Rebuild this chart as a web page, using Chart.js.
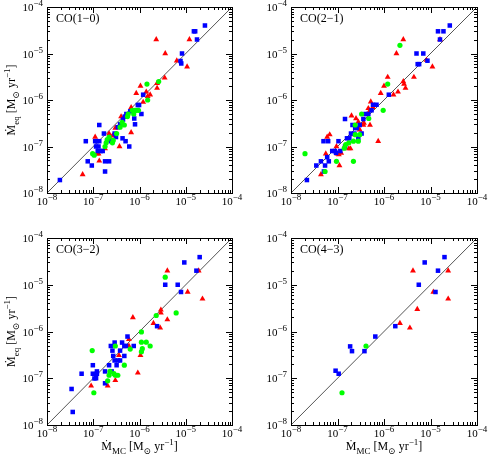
<!DOCTYPE html>
<html>
<head>
<meta charset="UTF-8">
<title>CO mass-loss rates</title>
<script src="https://cdn.jsdelivr.net/npm/chart.js"></script>
<style>
body { margin: 0; background: #fff; }
#wrap { position: relative; width: 490px; height: 456px; }
#wrap canvas { position: absolute; left: 0; top: 0; }
</style>
</head>
<body>
<div id="wrap">
<canvas id="c1" width="490" height="456"></canvas>
<canvas id="c2" width="490" height="456"></canvas>
<canvas id="c3" width="490" height="456"></canvas>
<canvas id="c4" width="490" height="456"></canvas>
</div>
<script>
// axis range and decade ticks (log)
const axisRange = [1e-8, 1e-4];
const tickExp = [-8, -7, -6, -5, -4];

// [Mdot_MC, Mdot_eq] pairs
const co10Red = [[5.9e-8,2.5e-8],[1.1e-7,1.6e-7],[1.2e-7,7e-8],[1.3e-7,7e-8],[1.35e-7,4.9e-8],
  [1.8e-7,9e-8],[2.2e-7,1.9e-7],[2.4e-7,1.4e-7],[2.6e-7,1.7e-7],[3e-7,2.5e-7],
  [3.7e-7,1e-7],[4e-7,4.4e-7],[6.6e-7,2e-7],[6.6e-7,6.9e-7],[8.5e-7,1.4e-6],
  [1.05e-6,2e-6],[1.2e-6,9e-7],[1.4e-6,1.5e-6],[1.5e-6,1.2e-6],[1.7e-6,1.3e-6],
  [2.4e-6,2.3e-6],[2.4e-6,1.8e-6],[3.5e-6,3e-6],[2.3e-6,2e-5],[3.6e-6,1e-5],
  [6.4e-6,7e-6],[1.07e-5,5.2e-6],[1.2e-5,2e-5]];
const co10Blue = [[1.9e-8,1.9e-8],[6.9e-8,1.3e-7],[7.6e-8,4.8e-8],[9.3e-8,3.9e-8],[1.1e-7,1.3e-7],
  [1.2e-7,1.3e-7],[1.35e-7,1.3e-7],[1.15e-7,1e-7],[1.3e-7,1e-7],[1.25e-7,8e-8],
  [1.45e-7,8e-8],[1.6e-7,8e-8],[1.35e-7,2.9e-7],[1.7e-7,1.9e-7],[1.8e-7,4.8e-8],
  [2.2e-7,4.8e-8],[1.8e-7,2.9e-8],[2.4e-7,1.3e-7],[2.9e-7,1.9e-7],[3.1e-7,1.6e-7],
  [3.4e-7,2.6e-7],[3.8e-7,3e-7],[4.3e-7,1.5e-7],[5e-7,1.3e-7],[6e-7,1e-7],
  [4.4e-7,3.8e-7],[4.8e-7,4.4e-7],[5.2e-7,5e-7],[6.3e-7,5.7e-7],[7.7e-7,4e-7],
  [8e-7,3e-7],[9.2e-7,7.8e-7],[9.8e-7,7.8e-7],[1.1e-6,5e-7],[1.2e-6,1.3e-6],
  [8.3e-6,1e-5],[7.7e-6,6.9e-6],[8e-6,6.1e-6],[1.5e-5,3e-5],[1.6e-5,3e-5],
  [1.75e-5,2e-5],[2.6e-5,4e-5]];
const co10Green = [[9.7e-8,7e-8],[1.05e-7,6.5e-8],[1.8e-7,1e-7],[1.9e-7,1.2e-7],[2e-7,1.4e-7],
  [2.2e-7,1.6e-7],[2.6e-7,1.2e-7],[2.7e-7,1.35e-7],[3.2e-7,1.9e-7],[3.8e-7,2.6e-7],
  [4.2e-7,3.3e-7],[4.7e-7,2.9e-7],[5.5e-7,4.4e-7],[5.7e-7,5e-7],[7e-7,6e-7],
  [7.5e-7,5e-7],[8e-7,6e-7],[8.5e-7,6e-7],[9.5e-7,6e-7],[1.45e-6,2.2e-6],
  [1.5e-6,1e-6],[2.6e-6,2.5e-6]];

const co21Red = [[4.4e-8,2.5e-8],[5.6e-8,7e-8],[6e-8,1.6e-7],[6.8e-8,1.8e-7],[1e-7,7e-8],
  [1.07e-7,6.7e-8],[1.2e-7,7.2e-8],[1.1e-7,3.9e-8],[9.5e-8,1e-7],[2e-7,4.6e-7],
  [1.75e-7,9e-8],[1.9e-7,9e-8],[2.1e-7,1.8e-7],[2.5e-7,4e-7],[2.8e-7,3.4e-7],
  [3e-7,2.3e-7],[3.6e-7,2.9e-7],[3.7e-7,3.2e-7],[4.6e-7,6.6e-7],[5e-7,6e-7],
  [5.2e-7,9.2e-7],[5.8e-7,7e-7],[5e-7,2.9e-7],[7.5e-7,1.3e-7],[8.5e-7,1.4e-6],
  [1e-6,2e-6],[1.2e-6,3.1e-6],[1.6e-6,1.3e-6],[2e-6,1.5e-6],[2.6e-6,2.5e-6],
  [2.7e-6,2.2e-6],[2.9e-6,1.8e-6],[1.85e-6,1e-5],[2.6e-6,2e-5],[4.4e-6,3.1e-6],
  [8.2e-6,7.2e-6],[1.1e-5,5.2e-6],[1.6e-5,2e-5]];
const co21Blue = [[2.2e-8,1.9e-8],[3.5e-8,3.9e-8],[4.4e-8,4.8e-8],[5.1e-8,2.9e-8],[5.4e-8,3.9e-8],
  [5e-8,1.3e-7],[6.3e-8,1.3e-7],[6e-8,5.9e-8],[6.5e-8,4.8e-8],[7.7e-8,8e-8],
  [8.8e-8,8e-8],[9.3e-8,7.3e-8],[1.05e-7,1.3e-7],[1.15e-7,8e-8],[1.45e-7,3.9e-7],
  [1.45e-7,1e-7],[1.6e-7,1.5e-7],[1.8e-7,1.5e-7],[1.95e-7,1.9e-7],[2.1e-7,2.9e-7],
  [2.3e-7,1.9e-7],[2.4e-7,2.5e-7],[2.6e-7,2.5e-7],[3e-7,2.9e-7],[2.8e-7,1.5e-7],
  [3.3e-7,1.9e-7],[3.6e-7,3.9e-7],[4e-7,5e-7],[4.6e-7,5e-7],[5.4e-7,6e-7],
  [5.8e-7,7.9e-7],[6.9e-7,7.9e-7],[1.27e-6,1.3e-6],[5e-6,1e-5],[7e-6,1e-5],
  [5.3e-6,5.9e-6],[5.7e-6,5.9e-6],[8.6e-6,7e-6],[1.45e-5,3e-5],[1.9e-5,3e-5],
  [1.6e-5,2e-5],[2.6e-5,4e-5]];
const co21Green = [[2e-8,7e-8],[5.4e-8,2.9e-8],[9.5e-8,4.8e-8],[1.4e-7,9.2e-8],[1.5e-7,1.1e-7],
  [1.75e-7,1.2e-7],[2.2e-7,1.3e-7],[2.4e-7,1.8e-7],[2.4e-7,2.9e-7],[2.8e-7,1.3e-7],
  [3e-7,1.8e-7],[3.3e-7,5e-7],[2.2e-7,4.8e-8],[4.7e-7,4e-7],[9.6e-7,6e-7],
  [1.2e-6,2.2e-6],[2.2e-6,1.5e-5]];

const co32Red = [[9e-8,6.9e-8],[2.05e-7,6.9e-8],[3e-7,9e-8],[3.6e-7,3.1e-7],[5.9e-7,4.9e-7],
  [5.9e-7,6.8e-7],[7.2e-7,2e-6],[9.2e-7,1.3e-7],[1.05e-6,3.1e-7],[2e-6,1.5e-6],
  [2.8e-6,1.2e-6],[2.9e-6,2.9e-6],[2.9e-6,2.5e-6],[4e-6,1.8e-6],[4e-6,2e-5],
  [1.1e-5,7e-6],[1.9e-5,2e-5],[2.3e-5,5e-6]];
const co32Blue = [[3.4e-8,5.9e-8],[3.6e-8,1.9e-8],[5.6e-8,1.25e-7],[9.8e-8,1.9e-7],[9.8e-8,1.25e-7],
  [1.06e-7,9.9e-8],[1.15e-7,1e-7],[1.2e-7,1.25e-7],[1.2e-7,1.4e-7],[1.8e-7,7.8e-8],
  [1.8e-7,1.4e-7],[2.2e-7,1.9e-7],[2.4e-7,4.9e-7],[2.6e-7,3.9e-7],[2.9e-7,5.8e-7],
  [2.7e-7,3e-7],[2.9e-7,2.4e-7],[3.2e-7,1.9e-7],[3.4e-7,2.4e-7],[3.8e-7,3.9e-7],
  [3.8e-7,2.4e-7],[4.2e-7,5.8e-7],[4.7e-7,4.9e-7],[5.1e-7,4.9e-7],[5.5e-7,7.8e-7],
  [7.5e-7,4.9e-7],[4.7e-7,3e-7],[2.5e-7,1.4e-7],[3.6e-6,1e-5],[2.4e-6,1.3e-6],
  [6.7e-6,1e-5],[7.9e-6,7e-6],[9.3e-6,3e-5],[1.7e-5,2e-5],[2e-5,3.9e-5]];
const co32Green = [[9.5e-8,3.9e-7],[1.03e-7,4.9e-8],[2.05e-7,8.8e-8],[2.2e-7,1.16e-7],[2.3e-7,1.4e-7],
  [2.8e-7,1.25e-7],[3e-7,1.16e-7],[3.4e-7,1.16e-7],[3e-7,4.9e-7],[4.7e-7,1.9e-7],
  [6.3e-7,4.2e-7],[1.1e-6,9.8e-7],[1.1e-6,5.9e-7],[1.1e-6,3.7e-7],[1.15e-6,4.3e-7],
  [1.4e-6,5.9e-7],[1.7e-6,4.9e-7],[2.3e-6,2.2e-6],[3.6e-6,1.45e-5],[6.2e-6,2.5e-6]];

const co43Red = [[2.2e-6,1.5e-6],[3.6e-6,1.2e-6],[4.2e-6,2e-5],[5.2e-6,3e-6],[1.15e-5,7e-6],
  [2.4e-5,2e-5],[2.4e-5,5e-6]];
const co43Blue = [[9.1e-8,1.45e-7],[1.06e-7,1.25e-7],[1.87e-7,4.8e-7],[2.05e-7,3.8e-7],[3.8e-7,3.8e-7],
  [6.5e-7,7.8e-7],[1.75e-6,1.3e-6],[5.6e-6,1e-5],[7.5e-6,3e-5],[1.28e-5,7e-6],
  [1.45e-5,2e-5],[2e-5,3.9e-5]];
const co43Green = [[1.25e-7,4.9e-8],[4.1e-7,4.9e-7]];

// panel layout: plot box [left, top, right, bottom]
const panels = [
  { canvas: 'c1', label: 'CO(1\u22120)', red: co10Red, blue: co10Blue, green: co10Green, box: [47, 7, 232, 193], yTitle: true, xTitle: false },
  { canvas: 'c2', label: 'CO(2\u22121)', red: co21Red, blue: co21Blue, green: co21Green, box: [291, 7, 477, 193], yTitle: false, xTitle: false },
  { canvas: 'c3', label: 'CO(3\u22122)', red: co32Red, blue: co32Blue, green: co32Green, box: [47, 238, 232, 425], yTitle: true, xTitle: true },
  { canvas: 'c4', label: 'CO(4\u22123)', red: co43Red, blue: co43Blue, green: co43Green, box: [291, 238, 477, 425], yTitle: false, xTitle: true }
];

const FONT = '"Liberation Serif", "DejaVu Serif", serif';

// draw text made of normal / superscript / subscript pieces
function richText(ctx, parts, x, y, align, size) {
  const small = Math.round(size * 0.78);
  let w = 0;
  const ws = parts.map(([t, k]) => {
    ctx.font = (k ? small : size) + 'px ' + FONT;
    const m = ctx.measureText(t).width;
    w += m;
    return m;
  });
  let cx = align === 'right' ? x - w : align === 'center' ? x - w / 2 : x;
  ctx.textAlign = 'left';
  ctx.textBaseline = 'alphabetic';
  parts.forEach(([t, k], i) => {
    ctx.font = (k ? small : size) + 'px ' + FONT;
    const dy = k === 1 ? -size * 0.45 : k === -1 ? size * 0.3 : 0;
    ctx.fillText(t, cx, y + dy);
    cx += ws[i];
  });
}

const frame = {
  id: 'frame',
  afterDraw(chart, args, opts) {
    const { ctx, chartArea: a } = chart;
    const xs = chart.scales.x, ys = chart.scales.y;
    ctx.save();
    ctx.strokeStyle = '#000';
    ctx.fillStyle = '#000';
    ctx.lineWidth = 1;
    ctx.strokeRect(a.left + 0.5, a.top + 0.5, a.right - a.left, a.bottom - a.top);
    ctx.beginPath();
    tickExp.forEach(e => {
      for (let m = 1; m <= 9; m++) {
        if (e === tickExp[tickExp.length - 1] && m > 1) break;
        const v = m * Math.pow(10, e);
        const len = m === 1 ? 6 : 3;
        const px = Math.round(xs.getPixelForValue(v)) + 0.5;
        const py = Math.round(ys.getPixelForValue(v)) + 0.5;
        ctx.moveTo(px, a.bottom); ctx.lineTo(px, a.bottom - len);
        ctx.moveTo(px, a.top); ctx.lineTo(px, a.top + len);
        ctx.moveTo(a.left, py); ctx.lineTo(a.left + len, py);
        ctx.moveTo(a.right, py); ctx.lineTo(a.right - len, py);
      }
    });
    ctx.stroke();
    // decade labels
    tickExp.forEach(e => {
      const v = Math.pow(10, e);
      const lab = [['10', 0], ['\u2212' + Math.abs(e), 1]];
      richText(ctx, lab, xs.getPixelForValue(v), a.bottom + 12, 'center', 11);
      richText(ctx, lab, a.left - 4, ys.getPixelForValue(v) + 4, 'right', 11);
    });
    richText(ctx, [[opts.label, 0]], a.left + 9, a.top + 15, 'left', 12);
    if (opts.xTitle) {
      richText(ctx, [['\u1E40', 0], ['MC', -1], [' [M', 0], ['\u2299', -1], [' yr', 0], ['\u22121', 1], [']', 0]],
        (a.left + a.right) / 2, 450, 'center', 12);
    }
    if (opts.yTitle) {
      ctx.translate(15, (a.top + a.bottom) / 2);
      ctx.rotate(-Math.PI / 2);
      richText(ctx, [['\u1E40', 0], ['eq', -1], [' [M', 0], ['\u2299', -1], [' yr', 0], ['\u22121', 1], [']', 0]],
        0, 0, 'center', 12);
    }
    ctx.restore();
  }
};

const toPts = arr => arr.map(([x, y]) => ({ x: x, y: y }));

panels.forEach(p => {
  const [l, t, r, b] = p.box;
  new Chart(document.getElementById(p.canvas), {
    type: 'scatter',
    data: {
      datasets: [
        { data: toPts(p.green), pointStyle: 'circle', pointRadius: 2.6, backgroundColor: '#00ff00', borderColor: '#00ff00', borderWidth: 0 },
        { data: toPts(p.blue), pointStyle: 'rect', pointRadius: 3.2, backgroundColor: '#0000ff', borderColor: '#0000ff', borderWidth: 0 },
        { data: toPts(p.red), pointStyle: 'triangle', pointRadius: 3.4, backgroundColor: '#ff0000', borderColor: '#ff0000', borderWidth: 0 },
        { data: toPts([[axisRange[0], axisRange[0]], [axisRange[1], axisRange[1]]]), showLine: true, pointRadius: 0,
          borderColor: '#555555', borderWidth: 1 }
      ]
    },
    options: {
      responsive: false,
      animation: false,
      events: [],
      layout: { padding: { left: l, top: t, right: 490 - r, bottom: 456 - b } },
      scales: {
        x: { type: 'logarithmic', min: axisRange[0], max: axisRange[1], display: false },
        y: { type: 'logarithmic', min: axisRange[0], max: axisRange[1], display: false }
      },
      plugins: {
        legend: { display: false },
        tooltip: { enabled: false },
        frame: { label: p.label, xTitle: p.xTitle, yTitle: p.yTitle }
      }
    },
    plugins: [frame]
  });
});
</script>
</body>
</html>
